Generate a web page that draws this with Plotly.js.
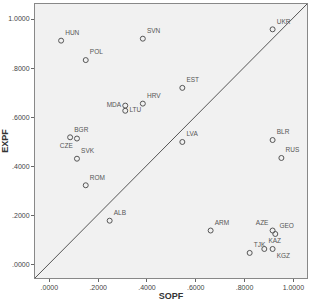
<!DOCTYPE html>
<html><head><meta charset="utf-8">
<script src="https://cdn.plot.ly/plotly-3.0.1.min.js"></script>
<style>html,body{margin:0;padding:0;background:#fff}#c{width:311px;height:307px}</style>
</head><body><div id="c"></div>
<script>
const countries = ["HUN","POL","SVN","UKR","EST","HRV","MDA","LTU","BGR","CZE","SVK","ROM","ALB","LVA","BLR","RUS","ARM","AZE","GEO","KAZ","KGZ","TJK"];
const sopf = [0.048,0.149,0.383,0.915,0.545,0.383,0.311,0.311,0.085,0.113,0.113,0.149,0.247,0.545,0.915,0.951,0.661,0.915,0.926,0.881,0.915,0.821];
const expf = [0.912,0.833,0.920,0.958,0.720,0.656,0.648,0.627,0.519,0.514,0.432,0.324,0.180,0.500,0.508,0.435,0.140,0.140,0.126,0.065,0.065,0.049];
const labelPos = ["top right","top right","top right","top right","top right","top right","middle left","middle right","top right","bottom left","top right","top right","top right","top right","top right","top right","top right","top left","top right","top right","bottom right","top right"];
const tickVals = [0,0.2,0.4,0.6,0.8,1.0];
const tickText = [".0000",".2000",".4000",".6000",".8000","1.0000"];
const refX = [-0.059, 1.056];
const refY = [-0.053, 1.061];

const fnt = "Liberation Sans Narrow, Arial Narrow, Liberation Sans, Arial, sans-serif";
Plotly.newPlot('c', [
  {x: refX, y: refY, mode:'lines', line:{color:'#555', width:1}, hoverinfo:'skip', showlegend:false},
  {x: sopf, y: expf, text: countries, mode:'markers+text', textposition: labelPos,
   textfont:{family:fnt, size:6.5, color:'#555'},
   marker:{symbol:'circle-open', size:5, color:'#555', line:{width:1}}, showlegend:false}
], {
  width:311, height:307,
  margin:{l:35, r:4, t:4, b:29},
  paper_bgcolor:'#fff', plot_bgcolor:'#f1f1f1',
  xaxis:{range:[-0.059,1.056], tickvals:tickVals, ticktext:tickText, ticks:'outside', ticklen:3, tickcolor:'#666',
    showgrid:false, zeroline:false, showline:true, linecolor:'#888', mirror:true,
    tickfont:{family:fnt, size:7, color:'#444'},
    title:{text:'<b>SOPF</b>', font:{family:'Liberation Sans, Arial, sans-serif', size:9, color:'#333'}, standoff:2}},
  yaxis:{range:[-0.053,1.061], tickvals:tickVals, ticktext:tickText, ticks:'outside', ticklen:3, tickcolor:'#666',
    showgrid:false, zeroline:false, showline:true, linecolor:'#888', mirror:true,
    tickfont:{family:fnt, size:7, color:'#444'},
    title:{text:'<b>EXPF</b>', font:{family:'Liberation Sans, Arial, sans-serif', size:9, color:'#333'}, standoff:4}},
}, {staticPlot:true, displayModeBar:false});
</script></body></html>
